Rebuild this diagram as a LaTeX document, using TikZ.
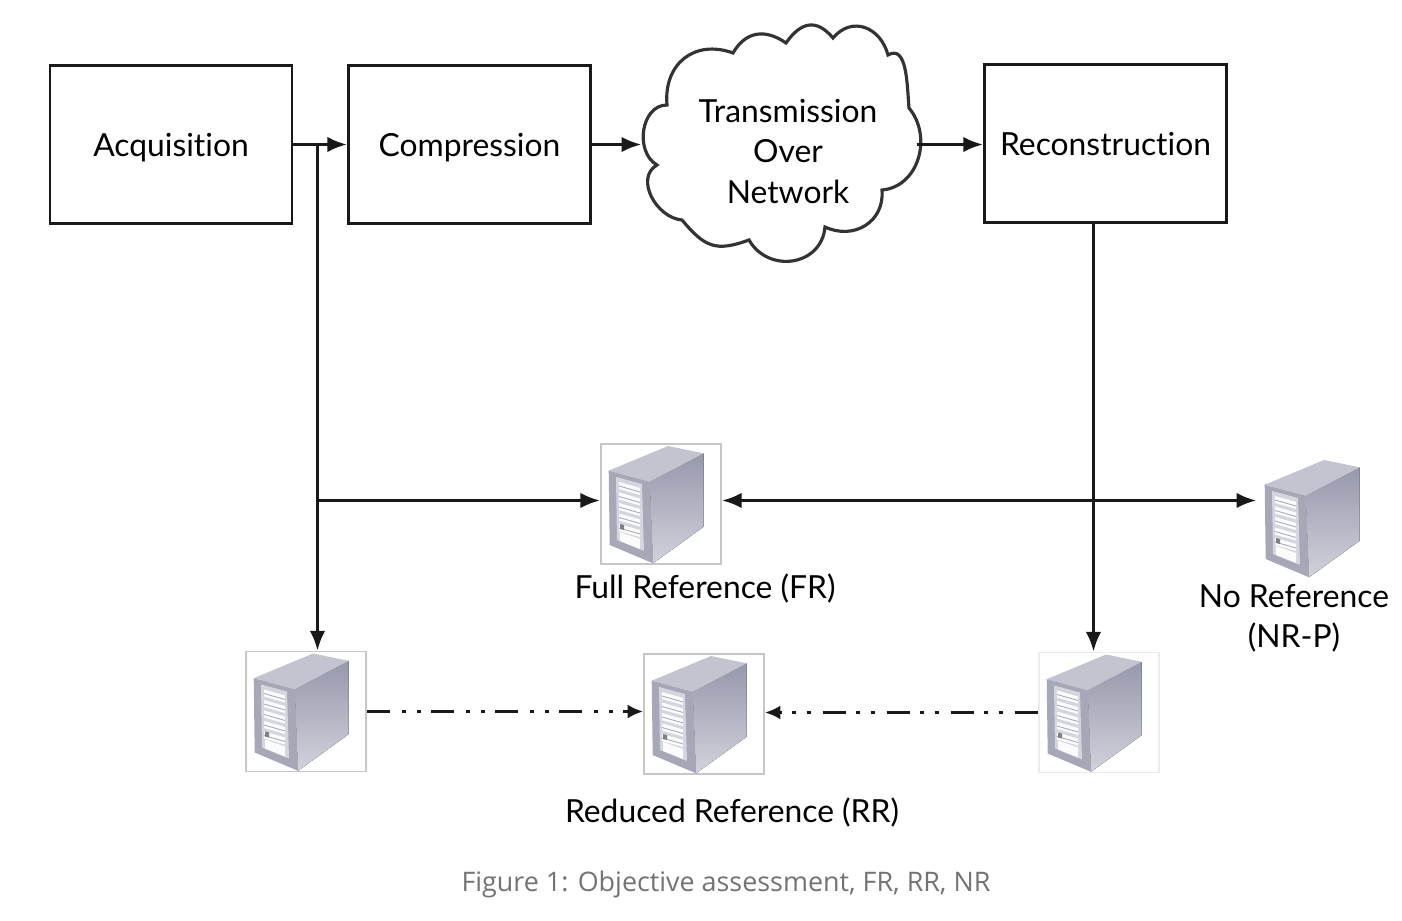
\documentclass[tikz,border=0pt]{standalone}
\usepackage{fontspec}
\setmainfont[Ligatures=NoCommon]{Lato}
\newfontfamily\capfont{Open Sans}
\usetikzlibrary{arrows.meta}
\definecolor{towerside}{HTML}{9698AC}
\definecolor{towerlow}{HTML}{D2D2DC}
\definecolor{towertop}{HTML}{C4C4D0}
\definecolor{towerfront}{HTML}{A6A8B8}
\definecolor{towerpanel}{HTML}{D4D6DE}

\begin{document}
\begin{tikzpicture}[
        stagebox/.style={draw=black!90, line width=0.85pt, minimum width=2.42cm, minimum height=1.58cm, inner sep=0pt, text height=7.1pt, text depth=0pt, font=\fontsize{9.05}{11}\selectfont},
        srvbox/.style={draw=black!22, line width=0.5pt, minimum size=1.2cm, inner sep=0pt},
        srvfree/.style={minimum size=1.2cm, inner sep=0pt},
        lbl/.style={inner sep=0pt, align=center, font=\fontsize{9.05}{11.4}\selectfont},
        flow/.style={line width=0.85pt, draw=black!90, -{Latex[length=5.6pt,width=4.4pt]}},
        dashflow/.style={line width=0.85pt, draw=black!90, -{Latex[length=4.4pt,width=4pt]}, dash pattern=on 2.3mm off 1.2mm on .4mm off 1.1mm on .4mm off 1mm},
        tower/.pic={
          \fill[top color=towerside, bottom color=towerlow] (-.113,.223) -- (.427,.507) -- (.427,-.227) -- (-.08,-.593) -- cycle;
          \fill[towertop] (-.523,.333) -- (.07,.58) -- (.427,.507) -- (-.113,.223) -- cycle;
          \fill[towerfront] (-.523,.333) -- (-.113,.223) -- (-.08,-.593) -- (-.513,-.41) -- cycle;
          \fill[towerpanel] (-.45,.27) -- (-.19,.2) -- (-.17,-.47) -- (-.44,-.36) -- cycle;
          \foreach \i in {0,...,4} {
            \fill[white!90!towerpanel] (-.42,.22-\i*.105) -- (-.21,.16-\i*.105) -- (-.21,.09-\i*.105) -- (-.42,.15-\i*.105) -- cycle;
            \draw[towerfront, line width=.25pt] (-.42,.18-\i*.105) -- (-.21,.12-\i*.105);
          }
          \fill[black!50] (-.41,-.2) -- (-.37,-.21) -- (-.37,-.26) -- (-.41,-.25) -- cycle;
          \fill[white!90!towerpanel] (-.41,-.28) -- (-.21,-.35) -- (-.21,-.45) -- (-.41,-.37) -- cycle;
        }
      ]
  \useasboundingbox (0,0) rectangle (14.02,9.2);

  % top row
  \node[stagebox] (acq) at (1.71,7.755) {Acquisition};
  \node[stagebox] (comp) at (4.695,7.755) {Compression};
  \node[stagebox] (recon) at (11.055,7.765) {Reconstruction};
  \node[srvfree, minimum width=2.79cm, minimum height=2.4cm] (cloud) at (7.815,7.755) {};
  \node[lbl, font=\fontsize{9.05}{11.5}\selectfont] (cloudtext) at (7.88,7.685) {Transmission\\Over\\Network};
  \draw[line width=0.9pt, draw=black!80]
    (6.67,8.15) to[out=95,in=160,looseness=1.25] (7.33,8.67) to[out=60,in=145,looseness=1.2] (7.86,8.77)
    to[out=55,in=130,looseness=1.4] (8.33,8.82) to[out=50,in=105,looseness=1.3] (8.88,8.65)
    to[out=30,in=95] (9.09,8.12) to[out=-50,in=5,looseness=1.1] (8.82,7.30)
    to[out=-85,in=-25,looseness=1.2] (8.25,6.93) to[out=-95,in=-60,looseness=1.3] (7.49,6.80)
    to[out=-160,in=-50,looseness=1.3] (6.82,7.00) to[out=175,in=-150,looseness=1.1] (6.57,7.55)
    to[out=150,in=180,looseness=1.1] cycle;

  % servers
  \node[srvbox] (fr) at (6.61,4.16) {};
  \node[srvbox] (rrleft) at (3.06,2.085) {};
  \node[srvbox] (rrmid) at (7.04,2.06) {};
  \node[srvbox, draw=black!8] (rrright) at (10.99,2.075) {};
  \node[srvfree] (nr) at (13.17,4.02) {};
  \foreach \srv in {fr,rrleft,rrmid,rrright,nr} {
    \pic at (\srv) {tower};
  }

  \node[lbl] (frlbl) at (7.05,3.32) {Full Reference (FR)};
  \node[lbl] (nrlbl) at (12.94,3.02) {No Reference\\(NR-P)};
  \node[lbl] (rrlbl) at (7.32,1.08) {Reduced Reference (RR)};
  \node[inner sep=0pt, text=black!55, font=\capfont\fontsize{7.65}{10}\selectfont] (caption) at (7.26,0.35) {Figure 1: Objective assessment, FR, RR, NR};

  \coordinate (tap) at (3.175,7.755);
  \coordinate (branch) at (3.175,4.195);
  \coordinate (reconout) at (10.935,6.96);

  \draw[flow] (acq.east |- tap) -- (comp.west |- tap);
  \draw[flow] (comp) -- (cloud);
  \draw[flow, shorten <=-.05cm] (cloud) -- (recon.west |- cloud);
  \draw[flow] (tap) -- (tap |- rrleft.north);
  \draw[flow] (branch) -- (fr.west |- branch);
  \draw[flow, {Latex[length=5.6pt,width=4.4pt]}-{Latex[length=5.6pt,width=4.4pt]}] (fr.east |- branch) -- (nr.west |- branch);
  \draw[flow] (reconout) -- (reconout |- rrright.north);
  \draw[dashflow] (rrleft) -- (rrmid.west |- rrleft);
  \draw[dashflow] (rrright) -- (rrmid.east |- rrright);
\end{tikzpicture}
\end{document}
